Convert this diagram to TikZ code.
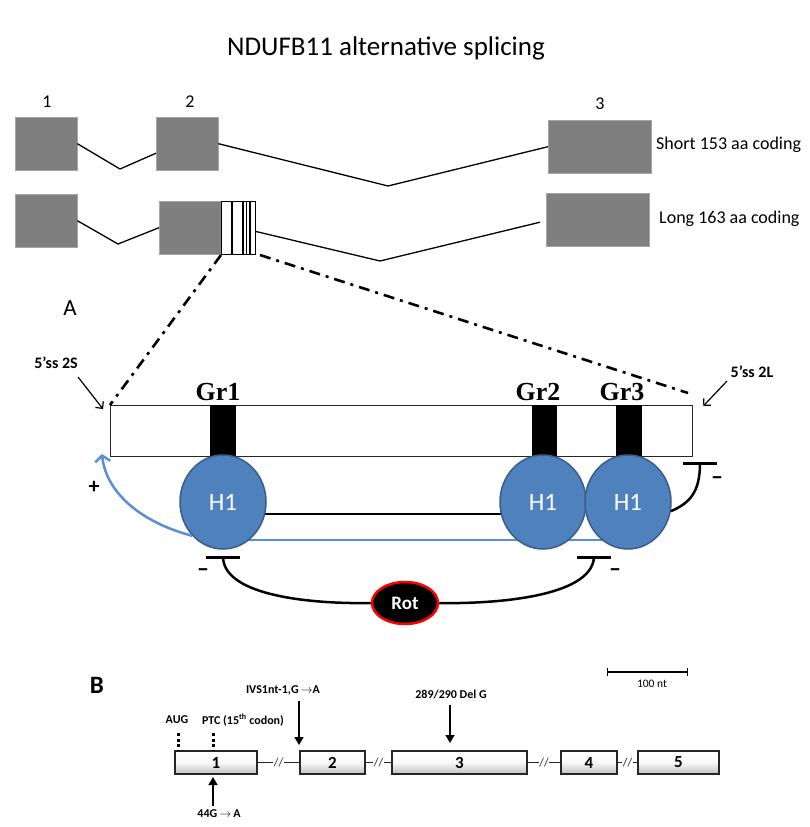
\documentclass[tikz,border=0pt]{standalone}
\usepackage{fontspec}
\setmainfont{Carlito}
\newfontfamily\timesf{Liberation Serif}
\usetikzlibrary{arrows.meta,shapes.geometric}
\definecolor{exgray}{HTML}{7F7F7F}
\definecolor{hblue}{HTML}{4F81BD}
\definecolor{hborder}{HTML}{385D8A}
\definecolor{lblue}{HTML}{5A8ED6}
\definecolor{bborder}{HTML}{262626}
\begin{document}
\begin{tikzpicture}[x=1pt,y=-1pt,
  exon/.style={fill=exgray, draw=exgray!70!white, line width=0.4pt, inner sep=0pt, anchor=north west, minimum height=53pt},
  intron/.style={line width=1.3pt, black},
  lbl/.style={font=\fontsize{18}{21}\selectfont, inner sep=0pt},
  dashdot/.style={line width=2.6pt, dash pattern=on 11pt off 6pt on 3pt off 6pt},
  grbar/.style={fill=black, inner sep=0pt, anchor=north west, minimum height=51pt},
  grlbl/.style={font=\timesf\bfseries\fontsize{26}{29}\selectfont, inner sep=0pt},
  hone/.style={ellipse, fill=hblue, draw=hborder, line width=1.5pt, minimum width=86pt, minimum height=94pt, inner sep=0pt, text=white, font=\fontsize{25}{28}\selectfont},
  tbar/.style={fill=black, minimum width=34pt, minimum height=3pt, inner sep=0pt},
  minus/.style={font=\bfseries\fontsize{24}{26}\selectfont, inner sep=0pt},
  inhib/.style={line width=2.5pt, black},
  bexon/.style={draw=bborder, line width=2pt, top color=white, bottom color=gray!50, middle color=white!95!gray, inner sep=0pt, anchor=north west, minimum height=23pt, font=\bfseries\fontsize{17}{19}\selectfont},
  blbl/.style={font=\bfseries\fontsize{12}{14}\selectfont, inner sep=0pt},
  brk/.style={fill=white, inner xsep=0.5pt, inner ysep=0pt, font=\fontsize{12}{12}\selectfont},
  bconn/.style={line width=1.6pt, bborder},
  dots/.style={line width=3pt, dash pattern=on 3pt off 2.5pt},
  marr/.style={line width=1.5pt, -{Triangle[length=8pt,width=9pt]}}
]
\useasboundingbox (0,0) rectangle (810,827);

% title
\node[font=\fontsize{27}{31}\selectfont, inner sep=0pt] (title) at (386,48) {NDUFB11 alternative splicing};

% top row (short)
\node[exon, minimum width=62pt] (e1s) at (15,117) {};
\node[exon, minimum width=62pt] (e2s) at (156,117) {};
\node[exon, minimum width=103pt] (e3s) at (548,120) {};
\node[lbl] (n1) at (47,102) {1};
\node[lbl] (n2) at (190,102) {2};
\node[lbl] (n3) at (600,104) {3};
\coordinate (k1) at (120,169);
\coordinate (k2) at (388,186);
\draw[intron] (e1s.east) -- (k1) -- ([yshift=-9.5pt]e2s.west);
\draw[intron] (e2s.east) -- (k2) -- (e3s.west);
\node[lbl, anchor=west] (short) at (656,145) {Short 153 aa coding};

% second row (long)
\node[exon, minimum width=62pt] (e1l) at (15,194) {};
\node[exon, minimum width=62pt] (e2l) at (159,201) {};
\node[draw=black, line width=1pt, fill=white, inner sep=0pt, anchor=north west, minimum width=34pt, minimum height=53pt] (sb) at (221,201) {};
\foreach \xx in {232,243,246.5,250}{\draw[line width=1.2pt] (\xx,201) -- (\xx,254);}
\node[exon, minimum width=103pt] (e3l) at (546,193) {};
\coordinate (k3) at (118,244);
\coordinate (k4) at (380,261);
\draw[intron] (e1l.east) -- (k3) -- (e2l.west);
\draw[intron] ([yshift=-3.5pt]sb.east) -- (k4) -- ([xshift=-6pt,yshift=-2.5pt]e3l.west);
\node[lbl, anchor=west] (long) at (659,219) {Long 163 aa coding};

% panel A
\node[font=\fontsize{23}{26}\selectfont, inner sep=0pt] (A) at (70,308) {A};
\node[draw=bborder, line width=1.3pt, fill=white, inner sep=0pt, anchor=north west, minimum width=582pt, minimum height=51pt] (bb) at (110,405) {};
\coordinate (ddend) at (688,393);
\draw[dashdot] (sb.south west) -- (bb.north west);
\draw[dashdot] ([xshift=4pt]sb.south east) -- (ddend);

\node[font=\bfseries\fontsize{16}{18}\selectfont, inner sep=0pt] (ss2s) at (56,363) {5’ss 2S};
\node[font=\bfseries\fontsize{16}{18}\selectfont, inner sep=0pt] (ss2l) at (752,372) {5’ss 2L};
\draw[line width=1.2pt, -{Straight Barb[length=5pt,width=10pt]}] (78,377) -- ([xshift=-7pt,yshift=-4pt]bb.north west);
\draw[line width=1.2pt, -{Straight Barb[length=5pt,width=10pt]}] (727,381) -- ([xshift=10pt,yshift=-1pt]bb.north east);

\node[grbar, minimum width=26pt] (g1) at (210,405) {};
\node[grbar, minimum width=25pt] (g2) at (532,405) {};
\node[grbar, minimum width=26pt] (g3) at (616,405) {};
\node[grlbl] (gl1) at (218,392) {Gr1};
\node[grlbl] (gl2) at (538,392) {Gr2};
\node[grlbl] (gl3) at (622,392) {Gr3};

% H1 circles (lines first)
\coordinate (c1) at (223,502);
\coordinate (c2) at (543,502);
\coordinate (c3) at (628,502);
\draw[line width=2.5pt] ([yshift=-12pt]c1) -- ([yshift=-12pt]c2);
\draw[line width=2.5pt, lblue] ([yshift=-38pt]c1) -- ([yshift=-38pt]c3);
\node[hone] (h1) at (c1) {H1};
\node[hone] (h2) at (c2) {H1};
\node[hone] (h3) at (c3) {H1};

\coordinate (tipA) at (102,454);
\draw[line width=2.5pt, lblue, -{Straight Barb[length=6pt,width=15pt]}] (h1.south west) .. controls (140,522) and (106,492) .. (tipA);
\node[font=\bfseries\fontsize{22}{24}\selectfont, inner sep=0pt] (plus) at (94,487) {+};

% inhibition
\node[tbar] (t1) at (223,557) {};
\node[tbar] (t2) at (594,557) {};
\node[tbar] (t3) at (700,463) {};
\node[minus] (m1) at (203,573) {–};
\node[minus] (m2) at (615,573) {–};
\node[minus] (m3) at (717,481) {–};
\node[ellipse, fill=black, draw=red, line width=2.5pt, minimum width=66pt, minimum height=42pt, inner sep=0pt, text=white, font=\bfseries\fontsize{19}{21}\selectfont] (rot) at (405,603) {Rot};
\draw[inhib] (t1.center) .. controls (224,598) and (320,604) .. (rot.west);
\draw[inhib] (t2.center) .. controls (592,598) and (490,604) .. (rot.east);
\draw[inhib] (t3.center) .. controls (700,492) and (690,503) .. (h3.-12);

% panel B
\node[font=\bfseries\fontsize{25}{28}\selectfont, inner sep=0pt] (B) at (97,685) {B};
\node[bexon, minimum width=82pt] (b1) at (174,750) {1};
\node[bexon, minimum width=65pt] (b2) at (299,750) {2};
\node[bexon, minimum width=135pt] (b3) at (391,750) {3};
\node[bexon, minimum width=56pt] (b4) at (560,750) {4};
\node[bexon, minimum width=81pt] (b5) at (637,750) {5};
\draw[bconn] (b1.east) -- node[brk] {//} (b2.west);
\draw[bconn] (b2.east) -- node[brk] {//} (b3.west);
\draw[bconn] (b3.east) -- node[brk] {//} (b4.west);
\draw[bconn] (b4.east) -- node[brk] {//} (b5.west);

\node[blbl] (aug) at (177,720) {AUG};
\node[blbl] (ptc) at (243,720) {PTC (15\textsuperscript{th} codon)};
\coordinate (augx) at (178,733);
\coordinate (ptcx) at (213,733);
\draw[dots] (augx) -- (augx |- b1.north) ;
\draw[dots] (ptcx) -- (ptcx |- b1.north);

\node[blbl] (ivs) at (283,690) {IVS1nt-1,G$\,\rightarrow$A};
\draw[marr] (b2.west |- ivs.south) ++(0,6) -- ([yshift=5pt]b2.north west);
\node[blbl] (del) at (451,695) {289/290 Del G};
\draw[marr] ([yshift=-5pt]del.south -| 450,0) -- ([yshift=7pt]b3.north west -| 450,0);
\node[blbl] (g44) at (219,814) {44G$\,\rightarrow\,$A};
\draw[marr] ([yshift=4pt]g44.north -| ptcx) -- ([yshift=-2pt]b1.south -| ptcx);

\coordinate (sc1) at (607,672);
\coordinate (sc2) at (688,672);
\draw[line width=1.4pt, {Bar[width=8pt]}-{Bar[width=8pt]}] (sc1) -- (sc2);
\node[font=\fontsize{11.5}{13}\selectfont, inner sep=0pt] (scl) at (652,684) {100 nt};
\end{tikzpicture}
\end{document}
